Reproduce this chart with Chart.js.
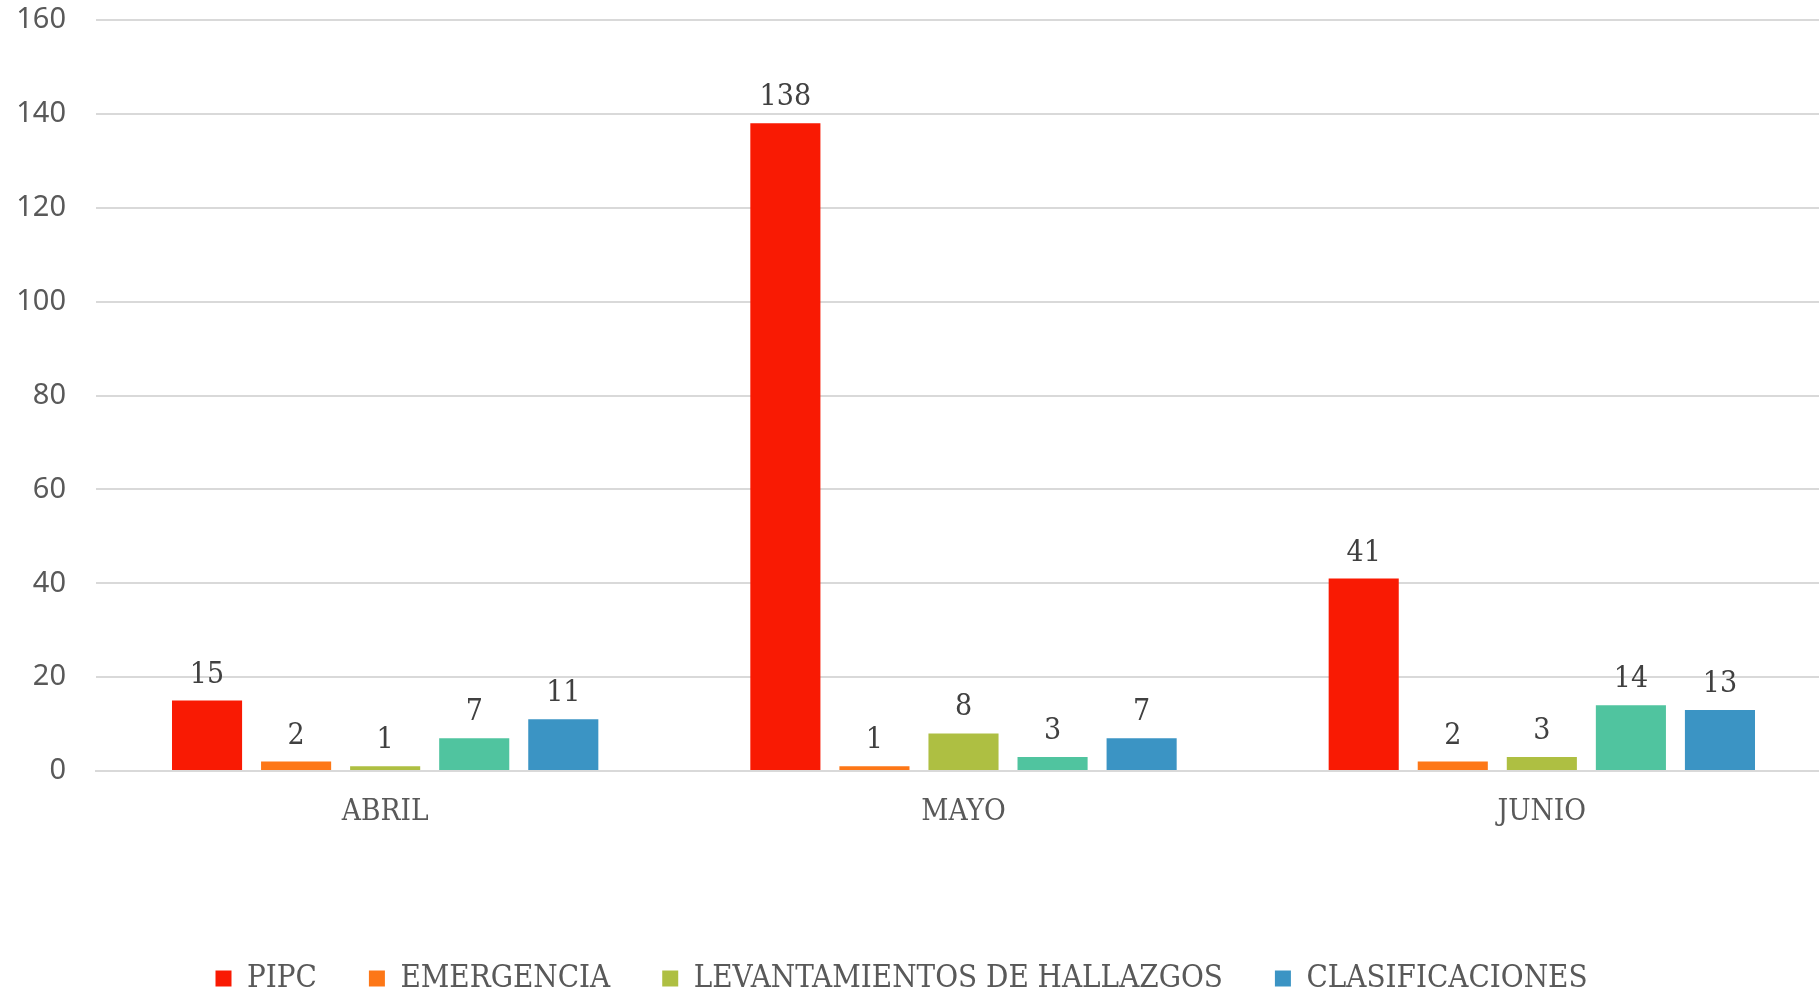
<!DOCTYPE html>
<html>
<head>
<meta charset="utf-8">
<script src="https://cdn.jsdelivr.net/npm/chart.js@4.4.1/dist/chart.umd.min.js"></script>
<style>
  html, body { margin: 0; padding: 0; background: #ffffff; overflow: hidden; }
  #wrap { position: relative; width: 1831px; height: 994px; }
</style>
</head>
<body>
<div id="wrap"><canvas id="grafico"></canvas></div>
<script>
// datos
const meses = ['ABRIL', 'MAYO', 'JUNIO'];
const pipc = [15, 138, 41];
const emergencia = [2, 1, 2];
const levantamientos = [1, 8, 3];
const serieVerde = [7, 3, 14]; // no aparece en la leyenda
const clasificaciones = [11, 7, 13];
const ticksY = [0, 20, 40, 60, 80, 100, 120, 140, 160];

const fuenteSlab = '"DejaVu Serif Condensed", "DejaVu Serif", serif';
const fuenteSans = '"Noto Sans", "Open Sans", sans-serif';

// etiquetas encima de cada barra
const etiquetasBarras = {
    id: 'etiquetasBarras',
    afterDatasetsDraw(chart) {
        const ctx = chart.ctx;
        ctx.save();
        ctx.font = '30px ' + fuenteSlab;
        ctx.fillStyle = '#404040';
        ctx.textAlign = 'center';
        ctx.textBaseline = 'alphabetic';
        chart.data.datasets.forEach((ds, i) => {
            const meta = chart.getDatasetMeta(i);
            meta.data.forEach((bar, j) => {
                ctx.fillText(String(ds.data[j]), bar.x, bar.y - 18);
            });
        });
        ctx.restore();
    }
};

// la leyenda del original queda un poco a la izquierda
const moverLeyenda = {
    id: 'moverLeyenda',
    afterLayout(chart) {
        const lg = chart.legend;
        if (!lg) return;
        lg.left -= 14;
        lg.right -= 14;
    }
};

const ctx = document.getElementById('grafico');

new Chart(ctx, {
    type: 'bar',
    data: {
        labels: meses,
        datasets: [
            { label: 'PIPC', data: pipc, backgroundColor: '#F91A03' },
            { label: 'EMERGENCIA', data: emergencia, backgroundColor: '#FD7717' },
            { label: 'LEVANTAMIENTOS DE HALLAZGOS', data: levantamientos, backgroundColor: '#AEBF42' },
            { label: '', data: serieVerde, backgroundColor: '#50C49F' },
            { label: 'CLASIFICACIONES', data: clasificaciones, backgroundColor: '#3B94C4' }
        ]
    },
    options: {
        responsive: true,
        maintainAspectRatio: false,
        animation: false,
        datasets: {
            bar: {
                categoryPercentage: 0.77,
                barPercentage: 0.787
            }
        },
        layout: {
            padding: { top: 0, right: 0, bottom: -10, left: 0 }
        },
        plugins: {
            legend: {
                position: 'bottom',
                labels: {
                    boxWidth: 16,
                    boxHeight: 16,
                    padding: 52,
                    color: '#595959',
                    font: { family: fuenteSlab, size: 31 },
                    filter: item => item.text !== ''
                }
            },
            tooltip: { enabled: false }
        },
        scales: {
            x: {
                afterFit(axis) {
                    axis.height = 140;
                },
                grid: { display: false, drawTicks: false },
                border: { display: true, color: '#D9D9D9', width: 2 },
                ticks: {
                    color: '#595959',
                    padding: 24,
                    font: { family: fuenteSlab, size: 29.5 }
                }
            },
            y: {
                min: 0,
                max: 160,
                afterBuildTicks(axis) {
                    axis.ticks = ticksY.map(v => ({ value: v }));
                },
                afterFit(axis) {
                    axis.width = 96;
                    axis.paddingTop = 20;
                },
                grid: { color: '#D9D9D9', lineWidth: 2, drawTicks: false },
                border: { display: false },
                ticks: {
                    color: '#595959',
                    padding: 30,
                    font: { family: fuenteSans, size: 29 }
                }
            }
        }
    },
    plugins: [etiquetasBarras, moverLeyenda]
});
</script>
</body>
</html>
